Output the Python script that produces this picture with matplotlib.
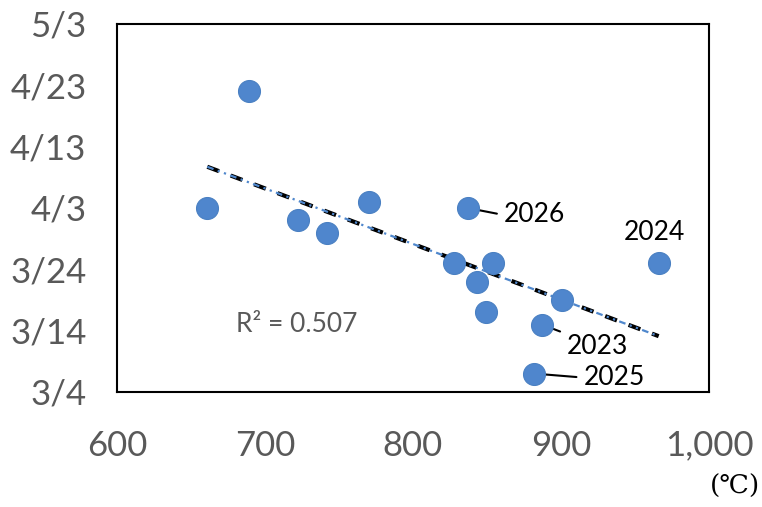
import matplotlib
matplotlib.use("Agg")
import matplotlib.pyplot as plt
import numpy as np
import pandas as pd

# ---- data ----
temps = [661, 689, 722, 742, 770, 828, 837, 843, 854, 849, 901, 887, 882, 966]
dates = ["4/3", "4/22", "4/1", "3/30", "4/4", "3/25", "4/3", "3/22", "3/25",
         "3/17", "3/19", "3/15", "3/7", "3/25"]
point_labels = ["", "", "", "", "", "", "2026", "", "", "", "", "2023", "2025", "2024"]
y_tick_labels = ["3/4", "3/14", "3/24", "4/3", "4/13", "4/23", "5/3"]
x_ticks = [600, 700, 800, 900, 1000]
r2_text = "R² = 0.507"

base = pd.Timestamp("2023-03-04")
def to_day(s):
    return (pd.Timestamp("2023/" + s) - base).days

x = np.array(temps, dtype=float)
y = np.array([to_day(d) for d in dates], dtype=float)
yt = [to_day(s) for s in y_tick_labels]

plt.rcParams['font.family'] = ['Lato', 'DejaVu Sans']
fig = plt.figure(figsize=(7.62, 5.07), dpi=100)
ax = fig.add_axes([117/762, 1-392/507, (709-117)/762, (392-24)/507])

ax.set_xlim(600, 1000)
ax.set_ylim(yt[0], yt[-1])
ax.set_xticks(x_ticks)
ax.set_xticklabels([f"{v:,}" for v in x_ticks])
ax.set_yticks(yt)
ax.set_yticklabels(y_tick_labels)
ax.tick_params(length=0, labelsize=25, labelcolor='#595959')
ax.tick_params(axis='y', pad=22)
ax.tick_params(axis='x', pad=27)
for sp in ax.spines.values():
    sp.set_linewidth(1.5)
    sp.set_color('black')

# trendline
coef = np.polyfit(x, y, 1)
xl = np.array([x.min(), x.max()])
yl = np.polyval(coef, xl)
ax.plot(xl, yl, color='black', lw=3, linestyle=(0, (3, 3)), zorder=2, solid_capstyle='butt')
ax.plot(xl, yl, color='#4F87CC', lw=1.6, linestyle=(0, (3, 2, 1, 2, 1, 2)), zorder=2.1)

ax.scatter(x, y, s=250, color='#4F86CD', edgecolor='#4A80C2', linewidth=0.8, zorder=5)

# labels
offsets = {"2026": (36, -7, (0, 0.5), True),
           "2023": (25, -22, (0, 1.0), True),
           "2025": (49, -4, (0, 0.5), True),
           "2024": (-4, 31, (0.5, 0.5), False)}
for xi, yi, lab in zip(x, y, point_labels):
    if not lab:
        continue
    dx, dy, rp, leader = offsets[lab]
    ha = 'left' if rp[0] == 0 else 'center'
    ap = dict(arrowstyle='-', color='black', lw=1.5, shrinkA=3, shrinkB=0, relpos=rp) if leader else None
    ax.annotate(lab, xy=(xi, yi), xytext=(dx, dy), textcoords='offset pixels',
                ha=ha, va='center', fontsize=19, color='black', arrowprops=ap, zorder=3)

fig.text(236/762, 1-325/507, r2_text, fontsize=19, color='#595959',
         ha='left', va='center')
fig.text(735/762, 1-486/507, "(℃)", family=['DejaVu Serif'], fontsize=19,
         ha='center', va='center', color='black')

fig.savefig("out.png", dpi=100)
